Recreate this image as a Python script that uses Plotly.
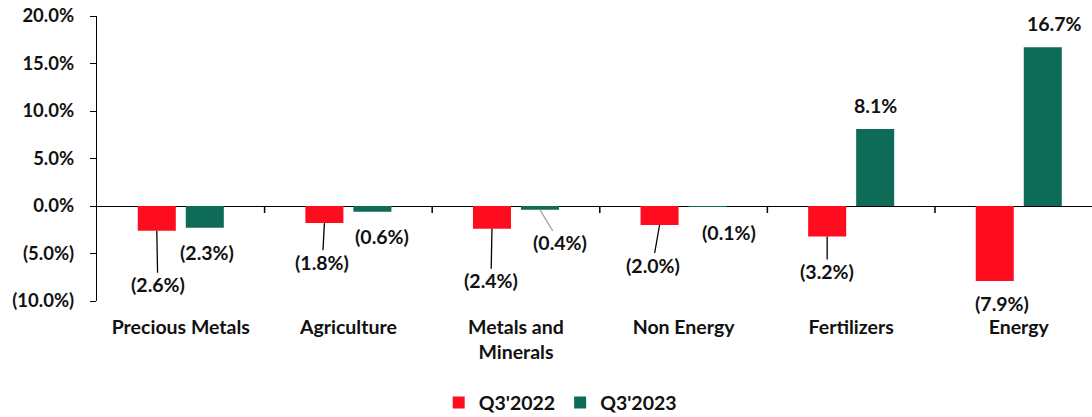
import plotly.graph_objects as go

categories = ["Precious Metals", "Agriculture", "Metals and<br>Minerals", "Non Energy", "Fertilizers", "Energy"]
q3_2022 = [-2.6, -1.8, -2.4, -2.0, -3.2, -7.9]
q3_2023 = [-2.3, -0.6, -0.4, -0.1, 8.1, 16.7]
series_names = ["Q3'2022", "Q3'2023"]
y_ticks = [-10, -5, 0, 5, 10, 15, 20]

RED = "#FF0D1F"
GREEN = "#0E6B58"
FONT = "Lato"
FS = 19.5
TXT = "#111111"

def fmt(v):
    return f"({abs(v):.1f}%)" if v < 0 else f"{v:.1f}%"

idx = list(range(len(categories)))

fig = go.Figure()
fig.add_trace(go.Bar(x=idx, y=q3_2022, name=series_names[0], marker=dict(color=RED, line=dict(width=0))))
fig.add_trace(go.Bar(x=idx, y=q3_2023, name=series_names[1], marker=dict(color=GREEN, line=dict(width=0))))

bargap = 0.427
bargroupgap = 0.208
slot = (1 - bargap) / 2
offsets = [-slot / 2, slot / 2]

# label placement (pixel offsets from bar end), leader line flag
label_style = [
    [(1, 54, True), (-2, 39, True), (-1, 52, True), (-7, 40, True), (0, 35, True), (7, 22, False)],
    [(2, 25, False), (10, 25, False), (20, 33, "grey"), (21, 26, False), (0, -24, False), (12, -24, False)],
]

for s, vals in enumerate([q3_2022, q3_2023]):
    for i, v in enumerate(vals):
        ax, ay, arrow = label_style[s][i]
        fig.add_annotation(
            x=i + offsets[s], y=v, xref="x", yref="y",
            text=f"<b>{fmt(v)}</b>", showarrow=True,
            arrowhead=0, arrowwidth=1.3,
            arrowcolor=("#A6A6A6" if arrow == "grey" else ("#000000" if arrow else "rgba(0,0,0,0)")),
            ax=ax, ay=ay, standoff=0, startstandoff=0, borderpad=0,
            font=dict(family=FONT, size=FS, color=TXT),
        )

# boundary ticks on the zero line
for b in idx[:-1]:
    fig.add_shape(type="line", xref="x", yref="y", x0=b + 0.5, x1=b + 0.5,
                  ysizemode="pixel", yanchor=0, y0=0, y1=-7,
                  line=dict(color="#000", width=1.5))

ytext = [f"<b>{fmt(t)}</b>" for t in y_ticks]
xtext = [f"<b>{c}</b>" for c in categories]

fig.update_layout(
    width=1092, height=417,
    margin=dict(l=97, r=0, t=16, b=116),
    plot_bgcolor="white", paper_bgcolor="white",
    barmode="group", bargap=bargap, bargroupgap=bargroupgap,
    font=dict(family=FONT, size=FS, color=TXT),
    showlegend=True,
    legend=dict(orientation="h", xref="container", yref="container", x=0.513, y=0.034,
                xanchor="center", yanchor="middle",
                font=dict(family=FONT, size=FS, color=TXT, weight="bold"),
                tracegroupgap=0, itemwidth=30),
    xaxis=dict(
        tickmode="array", tickvals=idx, ticktext=xtext,
        range=[-0.5, 5.437], showline=False, ticks="", showgrid=False, zeroline=False,
        ticklabelstandoff=12,
        tickfont=dict(family=FONT, size=FS, color=TXT),
    ),
    yaxis=dict(
        range=[-10, 20], tickmode="array", tickvals=y_ticks, ticktext=ytext,
        showline=True, linecolor="#000", linewidth=1.3,
        ticks="outside", ticklen=6, tickcolor="#000", tickwidth=1.3,
        showgrid=False, zeroline=True, zerolinecolor="#000", zerolinewidth=1.3,
        ticklabelstandoff=12,
        tickfont=dict(family=FONT, size=18.5, color=TXT),
    ),
)

fig.write_html("out.html")
